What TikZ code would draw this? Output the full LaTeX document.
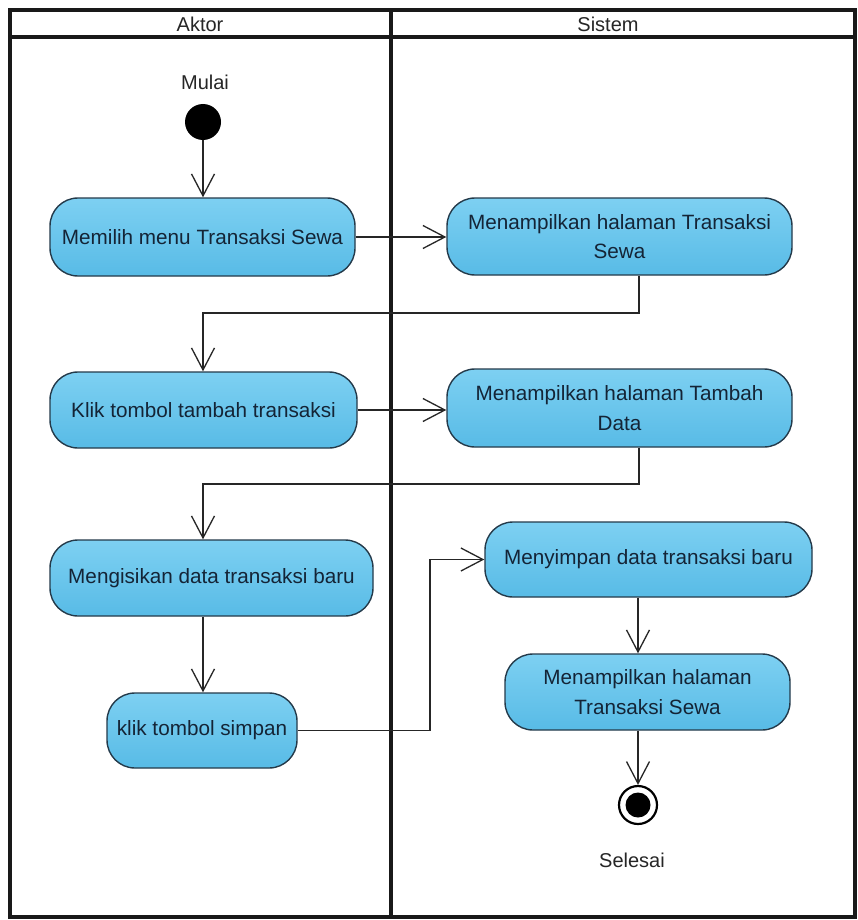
\documentclass[tikz,border=0pt]{standalone}
\usepackage{fontspec}
\setmainfont{Liberation Sans}
\usetikzlibrary{arrows.meta,calc}
\definecolor{actfill}{HTML}{6AC6EC}
\definecolor{actfilltop}{HTML}{7DD0F2}
\definecolor{actfillbot}{HTML}{58BBE6}
\definecolor{actdraw}{HTML}{243A4A}
\definecolor{acttext}{HTML}{142436}
\definecolor{lbltext}{HTML}{262626}
\tikzset{
  act/.style={draw=actdraw, line width=1.4pt, rounded corners=28pt,
    top color=actfilltop, bottom color=actfillbot, text=acttext,
    inner sep=0pt, align=center,
    font=\fontsize{20.7}{29.5}\selectfont},
  flow/.style={line width=1.3pt, draw=black!85,
    -{Straight Barb[length=22pt,width=23pt,line width=1.3pt]}},
  frameline/.style={line width=3.2pt, draw=black!90},
  lbl/.style={text=lbltext, font=\fontsize{20}{24}\selectfont, inner sep=0pt},
}
\begin{document}
\begin{tikzpicture}[x=1pt,y=-1pt]
\useasboundingbox (0,0) rectangle (857,920);
\fill[white] (0,0) rectangle (857,920);
% swimlane frame
\draw[frameline] (10,10) rectangle (855,917);
\draw[frameline] (10,37) -- (855,37);
\draw[frameline] (391,10) -- (391,917);
\node[lbl] (hA) at (200,24) {Aktor};
\node[lbl] (hS) at (608,24) {Sistem};
% helper x positions
\coordinate (xa) at (203,0);
\coordinate (xb) at (639,0);
\coordinate (xc) at (638,0);
% start
\node[circle, fill=black, minimum size=36pt, inner sep=0pt] (start) at (203,122) {};
\node[lbl] (mulai) at (205,82) {Mulai};
% activities
\node[act, minimum width=305pt, minimum height=78pt] (n1) at (202.5,237) {Memilih menu Transaksi Sewa};
\node[act, minimum width=345pt, minimum height=77pt] (n2) at (619.5,236.5) {Menampilkan halaman Transaksi\\Sewa};
\node[act, minimum width=307pt, minimum height=76pt] (n3) at (203.5,410) {Klik tombol tambah transaksi};
\node[act, minimum width=345pt, minimum height=78pt] (n4) at (619.5,408) {Menampilkan halaman Tambah\\Data};
\node[act, minimum width=323pt, minimum height=76pt] (n5) at (211.5,578) {Mengisikan data transaksi baru};
\node[act, minimum width=190pt, minimum height=75pt] (n6) at (202,730.5) {klik tombol simpan};
\node[act, minimum width=327pt, minimum height=75pt] (n7) at (648.5,559.5) {Menyimpan data transaksi baru};
\node[act, minimum width=285pt, minimum height=76pt] (n8) at (647.5,692) {Menampilkan halaman\\Transaksi Sewa};
% end
\node[circle, draw=black, line width=2.2pt, fill=white, minimum size=38pt, inner sep=0pt] (end) at (638,805) {};
\node[circle, fill=black, minimum size=25pt, inner sep=0pt] at (end.center) {};
\node[lbl] (selesai) at (632,860) {Selesai};
% connectors
\draw[flow] (start.south) -- (xa |- n1.north);
\draw[flow] (n1.east) -- (n2.west |- n1.east);
\draw[flow] (xb |- n2.south) -- (639,313) -| (xa |- n3.north);
\draw[flow] (n3.east) -- (n4.west |- n3.east);
\draw[flow] (xb |- n4.south) -- (639,484) -| (xa |- n5.north);
\draw[flow] (xa |- n5.south) -- (xa |- n6.north);
\draw[flow] (n6.east) -- (430,730.5) |- (n7.west);
\draw[flow] (xc |- n7.south) -- (xc |- n8.north);
\draw[flow] (xc |- n8.south) -- (end.north);
\end{tikzpicture}
\end{document}
